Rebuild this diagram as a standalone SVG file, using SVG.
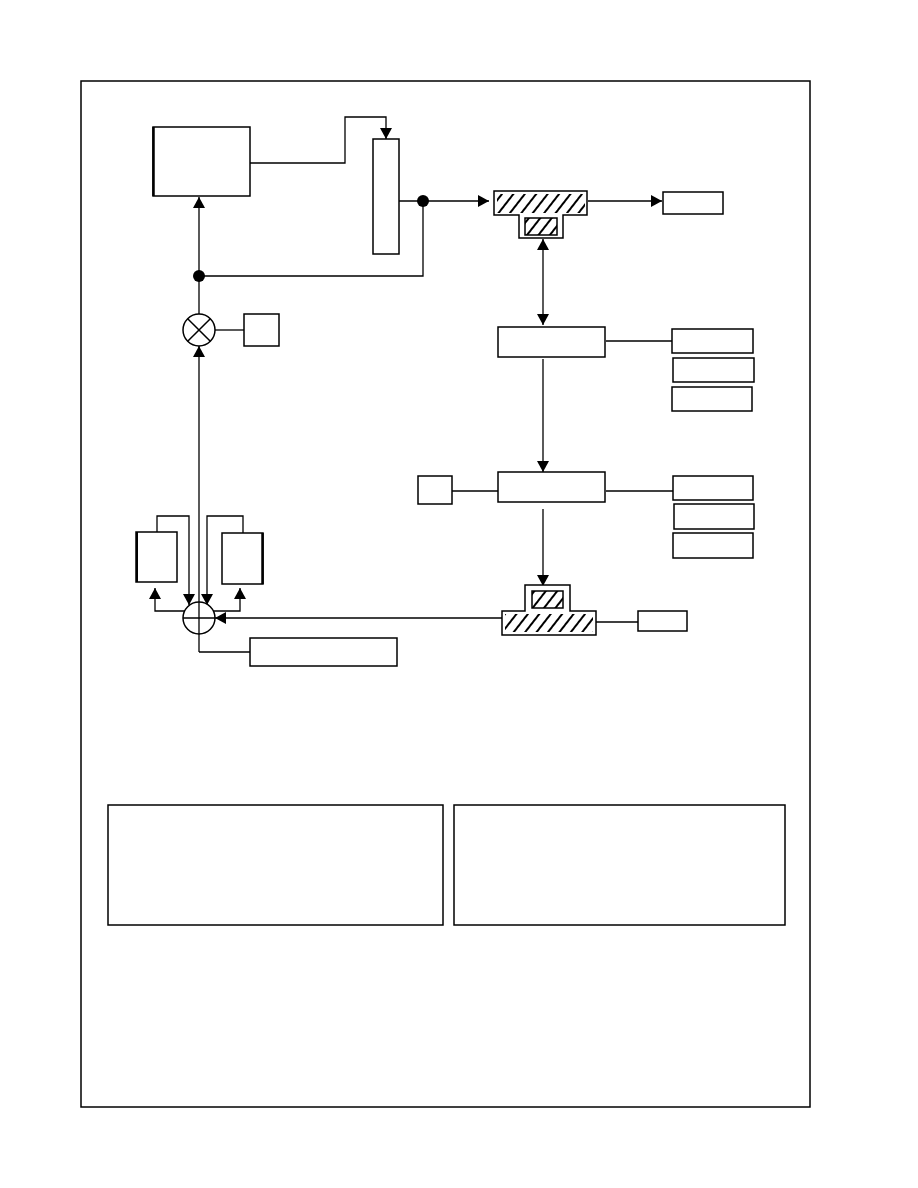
<svg xmlns="http://www.w3.org/2000/svg" width="918" height="1188" viewBox="0 0 918 1188">
<style>
.b{fill:#fff;stroke:#000;stroke-width:1.5}
.c{fill:none;stroke:#000;stroke-width:1.3}
.h{stroke:none}
</style>
<defs>
<marker id="ar" markerUnits="userSpaceOnUse" markerWidth="12" markerHeight="12" refX="11" refY="6" orient="auto-start-reverse"><path d="M0,0 L11,6 L0,12 z" fill="#000"/></marker>
<pattern id="hatch" patternUnits="userSpaceOnUse" width="9" height="9" patternTransform="rotate(38)"><line x1="2" y1="0" x2="2" y2="9" stroke="#000" stroke-width="2"/></pattern>
</defs>
<rect id="frame" x="81" y="81" width="729" height="1026" fill="none" stroke="#000" stroke-width="1.5"/>
<g id="connectors">
<path class="c" d="M250,163 H345 V117 H386 V139" marker-end="url(#ar)"/>
<path class="c" d="M399,201 H489" marker-end="url(#ar)"/>
<path class="c" d="M423,201 V276 H199"/>
<path class="c" d="M199,276 V197" marker-end="url(#ar)"/>
<path class="c" d="M199,276 V314"/>
<path class="c" d="M215,330 H244"/>
<path class="c" d="M199,652 V346" marker-end="url(#ar)"/>
<path class="c" d="M588,201 H662" marker-end="url(#ar)"/>
<path class="c" d="M543,239 V325" marker-start="url(#ar)" marker-end="url(#ar)"/>
<path class="c" d="M543,359 V472" marker-end="url(#ar)"/>
<path class="c" d="M606,341 H672"/>
<path class="c" d="M452,491 H498"/>
<path class="c" d="M606,491 H673"/>
<path class="c" d="M543,509 V586" marker-end="url(#ar)"/>
<path class="c" d="M596,622 H638"/>
<path class="c" d="M502,618 H215" marker-end="url(#ar)"/>
<path class="c" d="M157,532 V516 H189 V605" marker-end="url(#ar)"/>
<path class="c" d="M243,533 V516 H207 V605" stroke-width="2" marker-end="url(#ar)"/>
<path class="c" d="M185,611 H155 V588" marker-end="url(#ar)"/>
<path class="c" d="M213,611 H240 V588" stroke-width="2" marker-end="url(#ar)"/>
<path class="c" d="M199,652 H250"/>
<circle cx="423" cy="201" r="6" fill="#000"/>
<circle cx="199" cy="276" r="6" fill="#000"/>
</g>
<g id="controller">
<rect class="b" x="153" y="127" width="97" height="69"/>
<line x1="153.5" y1="127" x2="153.5" y2="196" stroke="#000" stroke-width="2.5"/>
</g>
<g id="column"><rect class="b" x="373" y="139" width="26" height="115" stroke="#555"/></g>
<g id="press-top">
<path class="b" d="M494,191 H587 V215 H563 V238 H519 V215 H494 Z"/>
<rect class="h" x="497" y="194" width="88" height="19" fill="url(#hatch)"/>
<rect x="525" y="218" width="32" height="17" fill="url(#hatch)" stroke="#000" stroke-width="1.5"/>
</g>
<g id="out-top"><rect class="b" x="663" y="192" width="60" height="22"/></g>
<g id="multiplier">
<circle cx="199" cy="330" r="16" fill="#fff" stroke="#000" stroke-width="1.5"/>
<path d="M187.7,318.7 L210.3,341.3 M210.3,318.7 L187.7,341.3" stroke="#000" stroke-width="1.5"/>
</g>
<g id="gain"><rect class="b" x="244" y="314" width="35" height="32"/></g>
<g id="proc1"><rect class="b" x="498" y="327" width="107" height="30"/></g>
<g id="r1a"><rect class="b" x="672" y="329" width="81" height="24"/></g>
<g id="r1b"><rect class="b" x="673" y="358" width="81" height="24"/></g>
<g id="r1c"><rect class="b" x="672" y="387" width="80" height="24"/></g>
<g id="proc2"><rect class="b" x="498" y="472" width="107" height="30"/></g>
<g id="l2"><rect class="b" x="418" y="476" width="34" height="28"/></g>
<g id="r2a"><rect class="b" x="673" y="476" width="80" height="24"/></g>
<g id="r2b"><rect class="b" x="674" y="504" width="80" height="25"/></g>
<g id="r2c"><rect class="b" x="673" y="533" width="80" height="25"/></g>
<g id="press-bottom">
<path class="b" d="M525,585 H570 V611 H596 V635 H502 V611 H525 Z" stroke-width="2"/>
<rect class="h" x="505" y="614" width="88" height="18" fill="url(#hatch)"/>
<rect x="532" y="591" width="31" height="17" fill="url(#hatch)" stroke="#000" stroke-width="1.5"/>
</g>
<g id="out-bottom"><rect class="b" x="638" y="611" width="49" height="20"/></g>
<g id="left-box">
<rect class="b" x="136" y="532" width="41" height="50"/>
<line x1="137" y1="532" x2="137" y2="582" stroke="#000" stroke-width="2"/>
</g>
<g id="right-box">
<rect class="b" x="222" y="533" width="41" height="51"/>
<line x1="262.5" y1="533" x2="262.5" y2="584" stroke="#000" stroke-width="2.5"/>
</g>
<g id="summer">
<circle cx="199" cy="618" r="16" fill="#fff" stroke="#000" stroke-width="1.5"/>
<path d="M183,618 H215 M199,602 V634" stroke="#000" stroke-width="1.3"/>
</g>
<g id="bottom-input"><rect class="b" x="250" y="638" width="147" height="28" stroke-width="2"/></g>
<g id="panel-left"><rect class="b" x="108" y="805" width="335" height="120"/></g>
<g id="panel-right"><rect class="b" x="454" y="805" width="331" height="120"/></g>
</svg>
